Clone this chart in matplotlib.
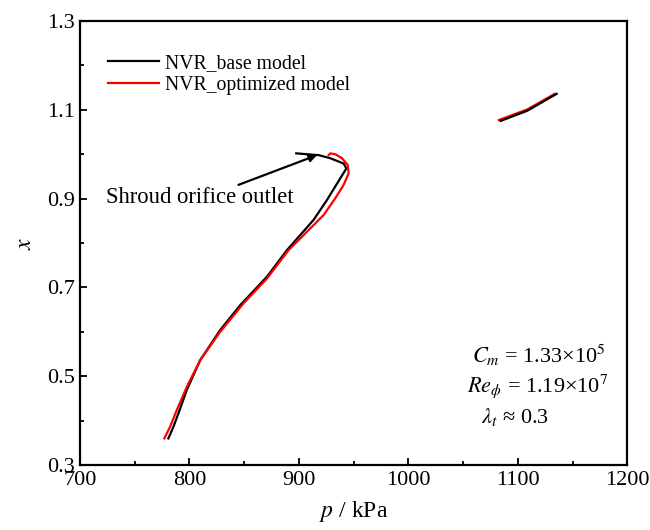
import matplotlib
matplotlib.use("Agg")
import matplotlib.pyplot as plt
from matplotlib.ticker import MultipleLocator, FixedLocator

# curve data (p in kPa, x)
base_p = [780.8, 785.4, 789.9, 797.6, 809.8, 828.1, 846.4, 870.8, 889.1,
          913.4, 925.7, 934.9, 943.4, 940.9, 928.7, 918.0, 907.4, 897.6]
base_x = [0.360, 0.386, 0.416, 0.469, 0.536, 0.604, 0.660, 0.724, 0.784,
          0.852, 0.897, 0.934, 0.968, 0.979, 0.991, 0.998, 1.000, 1.002]
opt_p = [777.1, 782.3, 788.5, 797.6, 809.8, 828.1, 849.4, 870.8, 890.6,
         922.6, 933.3, 940.9, 945.5, 944.6, 939.4, 933.3, 928.7, 927.2]
opt_x = [0.360, 0.386, 0.424, 0.476, 0.536, 0.600, 0.664, 0.720, 0.784,
         0.863, 0.901, 0.931, 0.957, 0.976, 0.991, 1.000, 1.002, 0.998]

# short segment at the top right
base_p2 = [1084.3, 1108.7, 1135.5]
base_x2 = [1.075, 1.098, 1.136]
opt_p2 = [1082.7, 1108.7, 1133.7]
opt_x2 = [1.077, 1.101, 1.136]

y_major = [0.3, 0.5, 0.7, 0.9, 1.1, 1.3]
y_minor = [0.4, 0.6, 0.8, 1.0, 1.2]

plt.rcParams['font.family'] = ['Liberation Serif', 'DejaVu Serif']
plt.rcParams['mathtext.fontset'] = 'stix'

fig = plt.figure(figsize=(6.5, 5.3), dpi=100)
ax = fig.add_axes([0.123, 0.1226, 0.842, 0.8377])

ax.plot(base_p, base_x, color='black', lw=1.6, label='NVR_base model')
ax.plot(opt_p, opt_x, color='red', lw=1.6, label='NVR_optimized model')
ax.plot(opt_p2, opt_x2, color='red', lw=1.6)
ax.plot(base_p2, base_x2, color='black', lw=1.6)

ax.set_xlim(700, 1200)
ax.set_ylim(0.3, 1.3)
ax.xaxis.set_major_locator(MultipleLocator(100))
ax.xaxis.set_minor_locator(MultipleLocator(50))
ax.yaxis.set_major_locator(FixedLocator(y_major))
ax.yaxis.set_minor_locator(FixedLocator(y_minor))
ax.tick_params(which='both', direction='in', top=False, right=False,
               labelsize=16, width=1.3)
ax.tick_params(which='major', length=5)
ax.tick_params(which='minor', length=3)
ax.tick_params(axis='x', pad=4)
for s in ax.spines.values():
    s.set_linewidth(1.6)

ax.set_xlabel('$p$ / kPa', fontsize=17, labelpad=7)
ax.set_ylabel('$x$', fontsize=17, labelpad=8)

ax.legend(loc='upper left', bbox_to_anchor=(0.037, 0.944), frameon=False,
          fontsize=14.2, handlelength=2.6, handletextpad=0.3, labelspacing=0.15,
          borderaxespad=0.0)

ax.text(723.8, 0.890, 'Shroud orifice outlet', fontsize=16.3, va='baseline')
ax.annotate('', xy=(916.6, 0.998), xytext=(844.8, 0.931),
            arrowprops=dict(arrowstyle='-|>', color='black', lw=1.6,
                            mutation_scale=11, shrinkA=0, shrinkB=0))

ax.text(1058.6, 0.529, r'$C_m$ = 1.33×10$^5$', fontsize=16, va='baseline')
ax.text(1054.0, 0.465, r'$Re_{\phi}$ = 1.19×10$^7$', fontsize=16, va='baseline')
ax.text(1066.0, 0.394, r'$\lambda_t$ ≈ 0.3', fontsize=16, va='baseline')

fig.savefig('out.png', dpi=100)
